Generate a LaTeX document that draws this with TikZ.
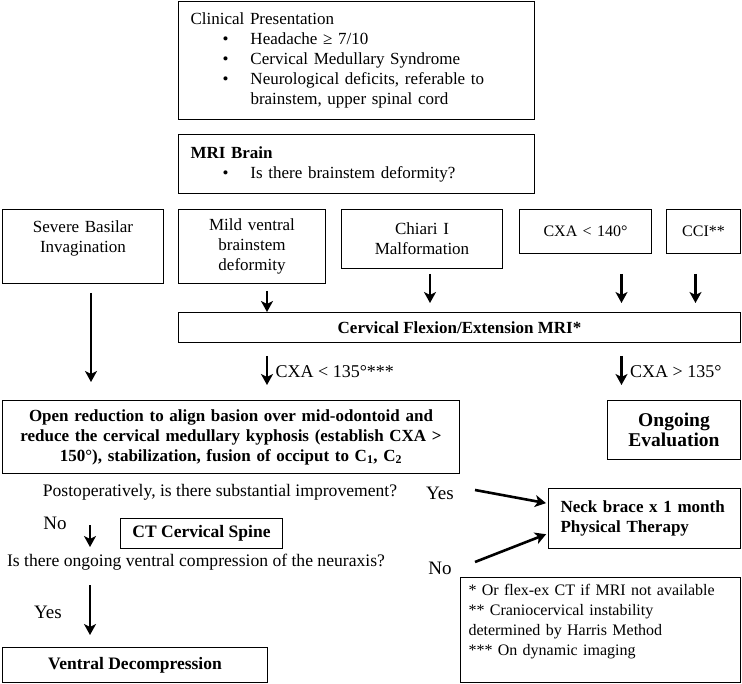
\documentclass[tikz,border=0pt]{standalone}
\usepackage{fontspec}
\setmainfont{Liberation Serif}
\usetikzlibrary{arrows.meta, positioning}
\newcommand{\bitem}{\hspace*{32pt}\makebox[28pt][l]{\textbullet}}
\newcommand{\fs}[1]{\fontsize{#1}{20}\selectfont}

\begin{document}
\begin{tikzpicture}[x=1pt, y=-1pt,
  box/.style={draw, line width=1pt, anchor=north west, inner sep=0pt, align=center, font=\fs{17}},
  bbox/.style={box, font=\fs{#1}\bfseries},
  arr/.style={-{Stealth[length=11pt, width=12pt, inset=3pt]}, line width=2.6pt},
  lbl/.style={font=\fs{19}},
  txt/.style={font=\fs{17.6}}]
  \useasboundingbox (0,0) rectangle (742,684);

  % Nodes
  \node[box, minimum width=356pt, minimum height=118pt, text width=332pt, align=left] (clin) at (178,1)
    {Clinical Presentation\\
     \bitem Headache ≥ 7/10\\
     \bitem Cervical Medullary Syndrome\\
     \bitem Neurological deficits, referable to\\
     \hspace*{60pt}brainstem, upper spinal cord};
  \node[box, minimum width=356pt, minimum height=59pt, text width=332pt, align=left] (mri) at (178,134)
    {\textbf{MRI Brain}\\
     \bitem Is there brainstem deformity?};

  \node[box, minimum width=161pt, minimum height=74pt, text width=150pt] (sbi) at (2,209)
    {Severe Basilar\\Invagination\\ \mbox{}};
  \node[box, minimum width=147pt, minimum height=74pt, text width=140pt] (mild) at (178,209)
    {Mild ventral\\brainstem\\deformity};
  \node[box, minimum width=161pt, minimum height=59pt, text width=150pt] (chiari) at (341,209)
    {Chiari I\\Malformation};
  \node[box, minimum width=132pt, minimum height=44pt, text width=120pt, font=\fs{16}] (cxa) at (519,209)
    {CXA < 140°};
  \node[box, minimum width=74pt, minimum height=44pt, text width=66pt, font=\fs{16}] (cci) at (666,209)
    {CCI**};

  \node[bbox=17, minimum width=562pt, minimum height=30pt] (flex) at (178,312)
    {Cervical Flexion/Extension MRI*};

  \node[bbox=17, minimum width=457pt, minimum height=73pt, text width=445pt] (open) at (2,400)
    {Open reduction to align basion over mid-odontoid and\\
     reduce the cervical medullary kyphosis (establish CXA >\\
     150°), stabilization, fusion of occiput to C\textsubscript{1}, C\textsubscript{2}};
  \node[bbox=19.5, minimum width=133pt, minimum height=59pt, text width=125pt] (ongo) at (607,400)
    {Ongoing\\Evaluation};

  \node[txt] (q1) at (220,492) {Postoperatively, is there substantial improvement?};
  \node[bbox=17, minimum width=192pt, minimum height=60pt, text width=168pt, align=left] (neck) at (548,488)
    {Neck brace x 1 month\\Physical Therapy};
  \node[bbox=17.5, minimum width=162pt, minimum height=30pt] (ct) at (120,518)
    {CT Cervical Spine};
  \node[txt] (q2) at (196,562) {Is there ongoing ventral compression of the neuraxis?};
  \node[bbox=17.5, minimum width=265pt, minimum height=35pt] (vd) at (2,647)
    {Ventral Decompression};
  \node[box, minimum width=280pt, minimum height=105pt, text width=264pt, align=left, font=\fs{16}] (notes) at (460,577)
    {* Or flex-ex CT if MRI not available\\
     {}** Craniocervical instability\\
     determined by Harris Method\\
     {}*** On dynamic imaging\\ \mbox{}};

  % Labels
  \node[lbl] (yes1) at (440,493) {Yes};
  \node[lbl] (no1) at (55,523) {No};
  \node[lbl] (no2) at (440,568) {No};
  \node[lbl] (yes2) at (48,612) {Yes};

  % Arrows into the flexion/extension MRI
  \draw[arr, shorten <=9pt, shorten >=18pt] ([xshift=8pt]sbi.south) -- ([xshift=8pt]sbi.south |- open.north);
  \draw[arr, shorten <=7pt] ([xshift=15pt]mild.south) -- ([xshift=15pt]mild.south |- flex.north);
  \draw[arr, shorten <=5pt, shorten >=9pt] ([xshift=8pt]chiari.south) -- ([xshift=8pt]chiari.south |- flex.north);
  \draw[arr, shorten <=20pt, shorten >=9pt] ([xshift=36pt]cxa.south) -- ([xshift=36pt]cxa.south |- flex.north);
  \draw[arr, shorten <=20pt, shorten >=9pt] ([xshift=-8pt]cci.south) -- ([xshift=-8pt]cci.south |- flex.north);

  % Arrows out of it
  \draw[arr, shorten <=13pt, shorten >=15pt] ([xshift=15pt]mild.south |- flex.south) -- ([xshift=15pt]mild.south |- open.north)
    node[midway, right=4pt, font=\fs{18}] (lt) {CXA < 135°***};
  \draw[arr, shorten <=13pt, shorten >=15pt] ([xshift=36pt]cxa.south |- flex.south) -- ([xshift=36pt]cxa.south |- ongo.north)
    node[midway, right=4pt, font=\fs{18}] (gt) {CXA > 135°};

  % After surgery
  \coordinate (a1) at (90,525);
  \coordinate (a2) at (90,547);
  \coordinate (a3) at (90,585);
  \coordinate (a4) at (90,635);
  \coordinate (y1) at (475,490);
  \coordinate (n1) at (475,562);
  \draw[arr] (a1) -- (a2);
  \draw[arr] (a3) -- (a4);
  \draw[arr, shorten >=2pt] (y1) -- ([yshift=15pt]neck.west);
  \draw[arr, shorten >=2pt] (n1) -- ([yshift=-15pt]neck.west);
\end{tikzpicture}
\end{document}
